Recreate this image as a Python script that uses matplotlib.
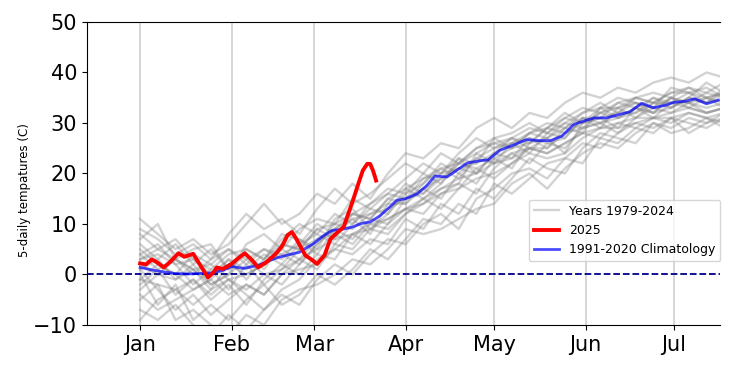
import matplotlib
matplotlib.use('Agg')
import matplotlib.pyplot as plt

# Eje x en dias desde el 1 de enero
month_days = [0, 31, 59, 90, 120, 151, 181]
month_labels = ['Jan', 'Feb', 'Mar', 'Apr', 'May', 'Jun', 'Jul']

# Climatologia 1991-2020
clim_days = [0, 4, 8, 12, 16, 20, 24, 28, 31, 35, 40, 44, 47, 51, 54,
             59, 62, 65, 69, 72, 75, 78, 81, 84, 87, 90, 94, 97, 100, 104,
             107, 111, 115, 118, 122, 126, 131, 135, 139, 143, 147, 151, 154,
             158, 162, 166, 170, 174, 178, 181, 185, 188, 192, 196]
clim_vals = [1.4, 0.9, 0.5, 0.2, 0.1, 0.2, 0.3, 0.8, 1.6, 1.2, 1.8, 2.8, 3.4, 4.0, 4.4,
             6.2, 7.6, 8.7, 9.0, 9.4, 10.1, 10.4, 11.5, 13.0, 14.7, 15.0, 16.0, 17.5, 19.5, 19.3,
             20.5, 22.1, 22.5, 22.7, 24.6, 25.5, 26.7, 26.5, 26.5, 27.4, 29.7, 30.5, 31.0,
             31.0, 31.6, 32.2, 33.9, 33.0, 33.5, 34.1, 34.3, 34.8, 33.8, 34.5]

# Año 2025
red_days = [0, 2, 4, 6, 8, 10, 13, 15, 18, 20, 23, 25, 26, 28, 31, 33, 35.5, 38, 40, 42.5,
            46, 48, 50, 51.5, 53, 56, 58, 60, 62.5, 64.5, 67, 69, 72, 74, 75.5, 77, 78, 79, 80]
red_vals = [2.2, 2.0, 3.0, 2.3, 1.4, 2.4, 4.2, 3.5, 4.1, 2.2, -0.6, 0.5, 1.4, 1.1, 2.1, 3.1, 4.2, 2.8, 1.4, 2.3,
            4.1, 5.5, 7.8, 8.4, 7.0, 3.8, 3.0, 2.1, 3.8, 7.0, 8.4, 9.4, 14.4, 18.0, 20.6, 21.9, 21.9, 20.5, 18.6]

# Años 1979-2024 (muestra aproximada de la nube gris, cada 6 dias)
grey_days = [0, 6, 12, 18, 24, 30, 36, 42, 48, 54, 60, 66, 72, 78, 84, 90, 96,
             102, 108, 114, 120, 126, 132, 138, 144, 150, 156, 162, 168, 174, 180, 186, 192, 198]
grey_a = [9, 7, 4, 6, 3, 8, 12, 9, 11, 8, 13, 17, 14, 16, 19, 22, 20, 24, 22, 25, 27, 28, 30, 28, 31, 33, 32, 34, 35, 34, 36, 37, 35, 36]
grey_b = [-7, -9, -6, -10, -12, -8, -11, -7, -4, -6, -1, 2, 0, 4, 7, 6, 10, 12, 9, 15, 17, 20, 21, 19, 23, 26, 25, 28, 30, 29, 31, 30, 29, 31]
grey_c = [4, 6, 2, -2, 1, -3, 2, 5, 3, 7, 5, 11, 13, 9, 12, 17, 15, 18, 23, 20, 24, 23, 27, 25, 29, 28, 33, 31, 32, 35, 33, 35, 38, 36]
grey_d = [-2, 1, -4, -1, -5, -2, -6, -1, 2, 0, 4, 3, 8, 6, 10, 13, 12, 16, 18, 16, 21, 24, 22, 26, 25, 29, 30, 28, 31, 33, 32, 34, 32, 33]
grey_e = [11, 8, 5, 7, 4, 6, 10, 14, 10, 12, 16, 14, 18, 15, 20, 24, 23, 26, 25, 29, 31, 29, 32, 31, 34, 36, 35, 37, 36, 38, 39, 38, 40, 39]
grey_f = [1, -3, -7, -4, -8, -5, -2, -4, 0, 3, 1, 6, 5, 9, 8, 12, 15, 13, 17, 21, 19, 22, 25, 24, 26, 28, 27, 30, 29, 31, 30, 32, 31, 30]
grey_g = [6, 3, 6, 2, 5, 1, 4, 1, 6, 5, 9, 7, 12, 11, 15, 14, 18, 21, 19, 23, 22, 26, 24, 28, 27, 31, 29, 33, 34, 32, 35, 34, 36, 35]
grey_h = [-5, -2, -9, -7, -10, -12, -8, -10, -5, -3, -2, 0, 3, 2, 5, 9, 8, 9, 11, 13, 14, 18, 20, 17, 21, 24, 26, 25, 28, 30, 29, 31, 30, 32]
grey_i = [3, 5, 7, 3, 0, 3, -1, 3, 7, 10, 8, 12, 10, 14, 17, 16, 20, 18, 22, 24, 26, 25, 28, 30, 29, 32, 34, 32, 35, 36, 35, 37, 36, 38]
grey_j = [-1, 2, 0, 4, 2, 5, 3, 0, -2, 2, 6, 9, 7, 11, 10, 15, 17, 15, 20, 18, 23, 21, 26, 27, 24, 30, 31, 29, 33, 31, 34, 33, 35, 33]
grey_k = [-9, -5, -3, -6, -3, -1, -4, -7, -3, -1, 3, 5, 4, 7, 6, 11, 9, 14, 12, 17, 15, 19, 23, 21, 20, 25, 28, 27, 26, 30, 28, 29, 31, 29]
grey_l = [7, 10, 3, 1, -2, 0, 6, 8, 5, 9, 11, 10, 15, 13, 16, 19, 22, 20, 24, 27, 25, 27, 26, 29, 32, 30, 33, 35, 34, 33, 37, 36, 34, 37]
grey_m = [0, -6, -2, -9, -6, -9, -5, -2, -6, -4, 0, -2, 1, 5, 3, 7, 11, 10, 14, 12, 18, 16, 19, 22, 23, 22, 27, 26, 29, 28, 31, 28, 30, 31]
grey_n = [2, 0, -1, 1, -3, 2, 0, 2, 4, 6, 10, 8, 11, 12, 14, 18, 16, 19, 21, 20, 24, 27, 25, 27, 30, 29, 32, 33, 31, 34, 33, 35, 34, 36]
grey_o = [3, 4, 2, 3, 1, 4, 5, 3, 6, 5, 9, 10, 12, 11, 15, 17, 19, 21, 22, 25, 26, 27, 29, 28, 30, 32, 33, 33, 35, 34, 36, 36, 35, 36]
grey_p = [-1, -2, -3, -1, -4, -1, -3, 0, 1, 3, 5, 7, 8, 9, 11, 13, 15, 17, 19, 20, 22, 24, 25, 24, 26, 28, 29, 30, 31, 31, 32, 33, 32, 33]
grey_q = [5, 2, 0, -3, -1, 3, 1, 4, 2, 6, 8, 6, 10, 13, 12, 16, 18, 22, 20, 23, 25, 26, 28, 27, 29, 31, 30, 32, 34, 33, 35, 34, 35, 34]
grey_r = [-3, 0, 3, 1, 2, -1, 0, 2, 5, 3, 7, 9, 11, 8, 14, 14, 17, 19, 22, 21, 23, 25, 26, 29, 28, 30, 32, 31, 33, 32, 33, 35, 34, 35]
grey_s = [1, 3, -1, 2, -2, 0, 3, 5, 4, 2, 6, 10, 9, 12, 13, 15, 16, 20, 21, 22, 24, 26, 27, 26, 27, 31, 31, 32, 32, 34, 34, 34, 33, 34]
grey_t = [8, 5, 3, 0, 3, 5, 2, -2, 1, 5, 7, 8, 6, 10, 11, 13, 14, 17, 18, 24, 22, 23, 25, 25, 28, 29, 30, 31, 33, 32, 35, 33, 32, 33]
grey_u = [-4, -7, -5, -3, -1, -4, -2, -4, 0, 1, 2, 5, 8, 10, 9, 12, 14, 16, 17, 19, 20, 22, 24, 23, 24, 27, 29, 29, 30, 31, 31, 32, 31, 32]
grey_v = [4, 1, 3, 5, 6, 1, 5, 3, 8, 7, 4, 9, 12, 14, 16, 15, 19, 20, 23, 22, 27, 25, 28, 29, 31, 30, 31, 34, 33, 35, 34, 36, 37, 35]
grey_years = [grey_a, grey_b, grey_c, grey_d, grey_e, grey_f, grey_g, grey_h, grey_i, grey_j, grey_k,
              grey_l, grey_m, grey_n, grey_o, grey_p, grey_q, grey_r, grey_s, grey_t, grey_u, grey_v]

fig = plt.figure(figsize=(7.4, 3.79), dpi=100)
ax = fig.add_axes([0.1176, 0.1425, 0.8554, 0.7995])

for i, vals in enumerate(grey_years):
    ax.plot(grey_days, vals, color='grey', alpha=0.35, lw=1.7,
            label='Years 1979-2024' if i == 0 else None)

ax.plot(red_days, red_vals, color='red', lw=2.8, label='2025', zorder=4)
ax.plot(clim_days, clim_vals, color='blue', lw=2, alpha=0.7,
        label='1991-2020 Climatology', zorder=3)
ax.axhline(0, color='darkblue', ls='--', lw=1.3, zorder=2)

ax.set_xlim(-18, 196.6)
ax.set_ylim(-10, 50)
ax.set_xticks(month_days)
ax.set_xticklabels(month_labels)
ax.set_yticks([-10, 0, 10, 20, 30, 40, 50])
ax.tick_params(labelsize=15)
ax.grid(axis='x', color='lightgrey', lw=1.3)
ax.set_axisbelow(True)
ax.spines['right'].set_visible(False)

ax.set_ylabel('5-daily tempatures (C)', fontsize=8.5)
ax.yaxis.set_label_coords(-0.088, 0.445)

ax.legend(loc='lower right', bbox_to_anchor=(1.0, 0.21), borderaxespad=0, fontsize=9)

plt.savefig('out.png', dpi=100)
